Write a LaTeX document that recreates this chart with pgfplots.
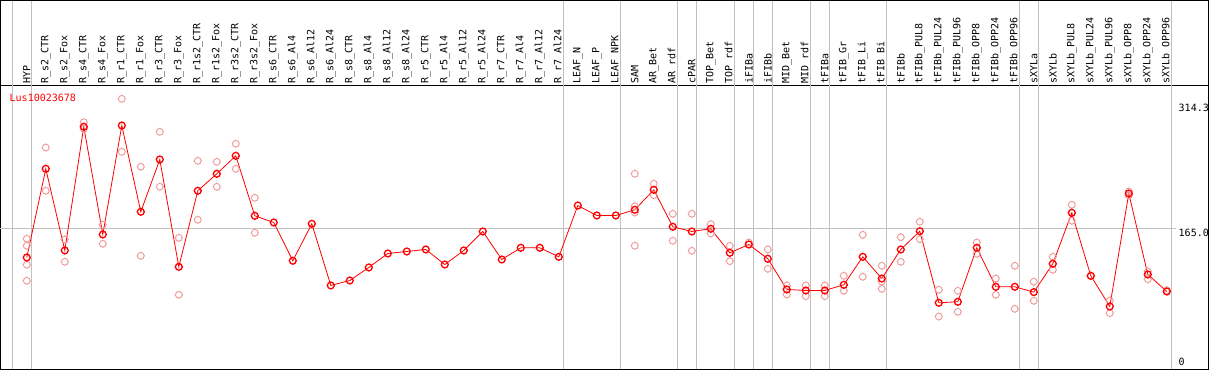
\documentclass[border=0pt]{standalone}
\usepackage{pgfplots}
\pgfplotsset{compat=1.18}
\usepackage{fontspec}
\setmonofont{DejaVu Sans Mono}
\definecolor{pinkc}{RGB}{240,150,150}
\definecolor{gridg}{RGB}{192,192,192}
\pgfdeclareplotmark{tcirc}{%
  \pgfpathcircle{\pgfpointorigin}{\pgfplotmarksize}%
  \pgfpathmoveto{\pgfpoint{0pt}{\pgfplotmarksize}}\pgfpathlineto{\pgfpoint{0pt}{1.2\pgfplotmarksize}}%
  \pgfpathmoveto{\pgfpoint{0pt}{-\pgfplotmarksize}}\pgfpathlineto{\pgfpoint{0pt}{-1.2\pgfplotmarksize}}%
  \pgfpathmoveto{\pgfpoint{\pgfplotmarksize}{0pt}}\pgfpathlineto{\pgfpoint{1.2\pgfplotmarksize}{0pt}}%
  \pgfpathmoveto{\pgfpoint{-\pgfplotmarksize}{0pt}}\pgfpathlineto{\pgfpoint{-1.2\pgfplotmarksize}{0pt}}%
  \pgfusepathqstroke}
\newcommand{\lblfont}{\fontsize{10bp}{12bp}\selectfont\ttfamily}
\begin{document}
\begin{tikzpicture}
\begin{axis}[
  scale only axis, width=1208bp, height=284bp,
  xmin=-1.384, xmax=62.195, ymin=-3.1, ymax=336.2,
  axis line style={line width=1bp, black},
  clip=false,
  xtick={0,...,60},
  xticklabels={HYP,R\_s2\_CTR,R\_s2\_Fox,R\_s4\_CTR,R\_s4\_Fox,R\_r1\_CTR,R\_r1\_Fox,R\_r3\_CTR,R\_r3\_Fox,R\_r1s2\_CTR,R\_r1s2\_Fox,R\_r3s2\_CTR,R\_r3s2\_Fox,R\_s6\_CTR,R\_s6\_Al4,R\_s6\_Al12,R\_s6\_Al24,R\_s8\_CTR,R\_s8\_Al4,R\_s8\_Al12,R\_s8\_Al24,R\_r5\_CTR,R\_r5\_Al4,R\_r5\_Al12,R\_r5\_Al24,R\_r7\_CTR,R\_r7\_Al4,R\_r7\_Al12,R\_r7\_Al24,LEAF\_N,LEAF\_P,LEAF\_NPK,SAM,AR\_Bet,AR\_rdf,cPAR,TOP\_Bet,TOP\_rdf,iFIBa,iFIBb,MID\_Bet,MID\_rdf,tFIBa,tFIB\_Gr,tFIB\_Li,tFIB\_Bi,tFIBb,tFIBb\_PUL8,tFIBb\_PUL24,tFIBb\_PUL96,tFIBb\_OPP8,tFIBb\_OPP24,tFIBb\_OPP96,sXYLa,sXYLb,sXYLb\_PUL8,sXYLb\_PUL24,sXYLb\_PUL96,sXYLb\_OPP8,sXYLb\_OPP24,sXYLb\_OPP96},
  xticklabel pos=upper,
  xticklabel shift=2bp,
  x tick label style={font=\lblfont, rotate=90, anchor=west, inner sep=0pt},
  ytick={165,314.3}, yticklabels={165.0,314.3},
  yticklabel pos=right,
  y tick label style={font=\lblfont, anchor=north west, inner sep=0pt, xshift=-30bp},
  extra y ticks={0}, extra y tick labels={0},
  extra y tick style={y tick label style={anchor=south west, yshift=1.5bp}},
  major tick length=0pt,
]
% group separators
\pgfplotsinvokeforeach{-0.77,0.23,28.23,31.23,34.23,35.23,37.23,38.23,39.23,41.23,42.23,45.23,52.23,53.23,60.23}{
  \draw[gridg, line width=1bp] (axis cs:#1,-3.1) -- ([yshift=85bp]axis cs:#1,336.2);
}
\draw[gridg, line width=1bp] (axis cs:-1.384,165) -- (axis cs:60.51,165);
\draw[line width=1bp] (rel axis cs:0,1) -- ([yshift=85bp]rel axis cs:0,1) -- ([yshift=85bp]rel axis cs:1,1) -- (rel axis cs:1,1);
\node[anchor=north west, inner sep=0pt, text=red, font=\lblfont] at ([xshift=9bp,yshift=-8bp]rel axis cs:0,1) {Lus10023678};

% replicates
\addplot[only marks, mark=tcirc, mark size=3.4bp, mark options={pinkc, line width=0.9bp}] table {
x y
0 153.1
0 144.7
0 122.0
0 102.9
1 262.1
1 210.4
2 152.2
2 125.6
3 292.4
3 284.5
4 169.8
4 147.1
5 320.3
5 257.0
6 239.1
6 132.7
7 280.9
7 215.2
8 154.2
8 86.1
9 246.2
9 175.8
10 245.0
10 215.2
11 266.6
11 236.7
12 202.0
12 160.2
32 230.7
32 192.0
32 184.5
32 144.7
33 218.8
33 205.1
34 182.9
34 150.7
35 182.9
35 138.7
36 170.5
36 159.4
37 144.7
37 126.3
38 148.6
39 140.3
39 117.2
40 97.3
40 86.5
41 97.3
41 84.5
42 97.3
42 84.5
43 108.8
43 90.9
44 157.8
44 107.7
45 120.8
45 102.0
45 93.3
46 155.0
46 125.6
47 173.4
47 152.6
48 92.1
48 60.2
49 90.9
49 65.8
50 148.6
50 135.1
51 105.6
51 86.1
52 120.8
52 69.4
53 101.7
53 79.0
54 131.5
54 116.0
55 193.7
55 174.6
56 108.8
57 79.3
57 64.2
58 209.6
58 204.8
59 114.0
59 104.8
60 91.6
};

% mean
\addplot[red, line width=0.8bp, mark=tcirc, mark size=3.4bp, mark options={red, line width=1.3bp}] table {
x y
0 130.7
1 236.7
2 139.1
3 286.9
4 158.2
5 288.4
6 185.3
7 247.8
8 119.6
9 210.4
10 230.7
11 252.2
12 180.5
13 172.5
14 126.8
15 171.0
16 97.3
17 103.2
18 118.8
19 135.5
20 137.9
21 140.3
22 122.3
23 139.1
24 161.8
25 128.3
26 142.3
27 142.3
28 131.5
29 192.8
30 180.9
31 180.9
32 187.7
33 211.6
34 167.4
35 161.8
36 165.0
37 136.3
38 146.2
39 129.2
40 92.5
41 91.3
42 91.3
43 98.1
44 131.5
45 105.6
46 140.3
47 162.1
48 76.6
49 77.8
50 142.3
51 95.7
52 95.7
53 89.3
54 123.2
55 184.1
56 108.8
57 72.2
58 207.2
59 110.4
60 90.1
};
\end{axis}
\end{tikzpicture}
\end{document}
